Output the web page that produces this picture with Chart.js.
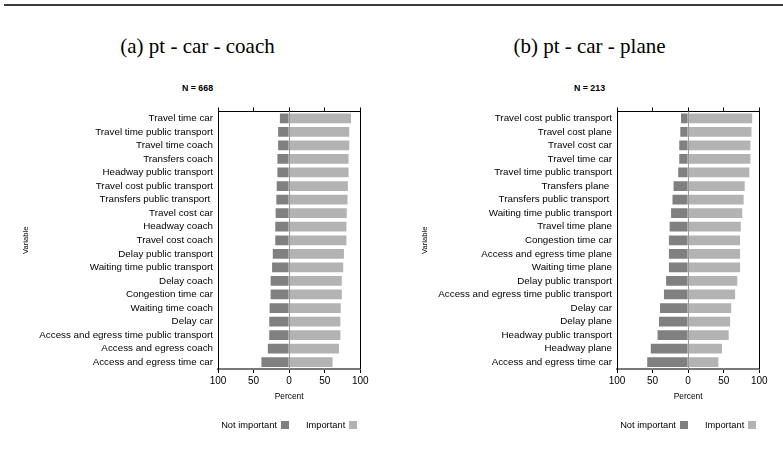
<!DOCTYPE html>
<html>
<head>
<meta charset="utf-8">
<script src="https://cdn.jsdelivr.net/npm/chart.js@4"></script>
<style>
  html, body { margin: 0; padding: 0; background: #fff; }
  #page { position: relative; width: 783px; height: 465px; overflow: hidden; background: #fff; }
  .rule { position: absolute; left: 4px; top: 4px; width: 779px; height: 2px; background: #3c3c3c; }
  .title { position: absolute; width: 391px; text-align: center; font-family: "Liberation Serif", "Times New Roman", serif; font-size: 21px; color: #000; line-height: 24px; }
  .ntext { position: absolute; width: 391px; text-align: center; font-family: "Liberation Sans Narrow", "Liberation Sans", Arial, sans-serif; font-weight: bold; font-size: 8.8px; color: #000; line-height: 10px; }
  .panel { position: absolute; top: 0; height: 465px; }
  .legend { position: absolute; top: 419px; height: 12px; white-space: nowrap; font-family: "Liberation Sans", Arial, Helvetica, sans-serif; font-size: 9.3px; line-height: 12px; color: #000; }
  .legend .item { display: inline-block; vertical-align: top; }
  .legend .item + .item { margin-left: 17px; }
  .legend .swatch { display: inline-block; width: 8px; height: 8px; margin-left: 4px; vertical-align: -1px; }
</style>
</head>
<body>
<div id="page">
  <div class="rule"></div>
  <div class="title" style="left:2px; top:34px;">(a) pt - car - coach</div>
  <div class="title" style="left:394px; top:34px;">(b) pt - car - plane</div>
  <div class="ntext" style="left:2px; top:83px;">N = 668</div>
  <div class="ntext" style="left:394px; top:83px;">N = 213</div>
  <div class="panel" style="left:0; width:391px;"><canvas id="coach"></canvas></div>
  <div class="panel" style="left:391px; width:392px;"><canvas id="plane"></canvas></div>
</div>
<script>
// Share of respondents (percent) rating each attribute, pt - car - coach
const coachVariables = [
  "Travel time car", "Travel time public transport", "Travel time coach", "Transfers coach",
  "Headway public transport", "Travel cost public transport", "Transfers public transport ",
  "Travel cost car", "Headway coach", "Travel cost coach", "Delay public transport",
  "Waiting time public transport", "Delay coach", "Congestion time car", "Waiting time coach",
  "Delay car", "Access and egress time public transport", "Access and egress coach",
  "Access and egress time car"
];
const coachNotImportant = [13, 15.5, 15.5, 16.5, 16.5, 17.5, 18, 19, 19.5, 19.5, 23, 24, 26, 26, 27.5, 28, 28, 30, 39];
const coachImportant    = [87, 84.5, 84.5, 83.5, 83.5, 82.5, 82, 81, 80.5, 80.5, 77, 76, 74, 74, 72.5, 72, 72, 70, 61];

// Share of respondents (percent) rating each attribute, pt - car - plane
const planeVariables = [
  "Travel cost public transport", "Travel cost plane", "Travel cost car", "Travel time car",
  "Travel time public transport", "Transfers plane ", "Transfers public transport ",
  "Waiting time public transport", "Travel time plane", "Congestion time car",
  "Access and egress time plane", "Waiting time plane", "Delay public transport",
  "Access and egress time public transport", "Delay car", "Delay plane",
  "Headway public transport", "Headway plane", "Access and egress time car"
];
const planeNotImportant = [10, 11, 12.5, 12.5, 14, 20.5, 22, 24, 26, 27, 27, 27, 31, 34, 39.5, 41, 43, 52.5, 57.5];
const planeImportant    = [90, 89, 87.5, 87.5, 86, 79.5, 78, 76, 74, 73, 73, 73, 69, 66, 60.5, 59, 57, 47.5, 42.5];

const seriesNames = ["Not important", "Important"];
const percentTicks = [-100, -50, 0, 50, 100];

const SANS = '"Liberation Sans", Arial, Helvetica, sans-serif';
const seriesColors = ['#808080', '#b3b3b3'];

// zero reference line drawn over the bars, plus the right edge of the panel frame
const panelDecor = {
  id: 'panelDecor',
  afterDatasetsDraw(chart) {
    const {ctx, chartArea} = chart;
    const x0 = Math.round(chart.scales.x.getPixelForValue(0)) + 0.5;
    ctx.save();
    ctx.strokeStyle = '#9a9a9a';
    ctx.lineWidth = 1;
    ctx.beginPath();
    ctx.moveTo(x0, chartArea.top);
    ctx.lineTo(x0, chartArea.bottom);
    ctx.stroke();
    ctx.restore();
  },
  afterDraw(chart) {
    const {ctx, chartArea} = chart;
    const xr = Math.round(chartArea.right) + 0.5;
    ctx.save();
    ctx.strokeStyle = '#000';
    ctx.lineWidth = 1;
    ctx.beginPath();
    ctx.moveTo(xr, chartArea.top - 0.5);
    ctx.lineTo(xr, chartArea.bottom);
    ctx.stroke();
    ctx.restore();
  }
};

// legend under the panel: label text followed by its colour key, centred on the plot
function addLegend(chart, panelLeft) {
  const box = document.createElement('div');
  box.className = 'legend';
  chart.data.datasets.forEach(ds => {
    const item = document.createElement('span');
    item.className = 'item';
    item.appendChild(document.createTextNode(ds.label));
    const sw = document.createElement('span');
    sw.className = 'swatch';
    sw.style.background = ds.backgroundColor;
    item.appendChild(sw);
    box.appendChild(item);
  });
  document.getElementById('page').appendChild(box);
  const {left, right} = chart.chartArea;
  const centre = panelLeft + (left + right) / 2;
  box.style.left = (centre - box.offsetWidth / 2) + 'px';
}

function makePanel(id, variables, notImportant, important, pad) {
  const ctx = document.getElementById(id);
  return new Chart(ctx, {
    type: 'bar',
    data: {
      labels: variables,
      datasets: [
        { label: seriesNames[0], data: notImportant.map(v => -v), backgroundColor: seriesColors[0], borderWidth: 0 },
        { label: seriesNames[1], data: important, backgroundColor: seriesColors[1], borderWidth: 0 }
      ]
    },
    options: {
      indexAxis: 'y',
      responsive: true,
      maintainAspectRatio: false,
      animation: false,
      devicePixelRatio: 1,
      datasets: { bar: { categoryPercentage: 1, barPercentage: 0.72 } },
      layout: { padding: { left: pad.left, right: pad.right, top: 107.5, bottom: 62.9 } },
      plugins: {
        tooltip: { enabled: false },
        legend: { display: false }
      },
      scales: {
        x: {
          type: 'linear', position: 'bottom', stacked: true,
          min: -100, max: 100,
          afterBuildTicks: s => { s.ticks = percentTicks.map(v => ({ value: v })); },
          ticks: { color: '#000', padding: 2.5, font: { family: SANS, size: 10 }, callback: v => Math.abs(v) },
          grid: { drawOnChartArea: false, drawTicks: true, tickLength: 4, tickColor: '#000', tickWidth: 1 },
          border: { display: true, color: '#7a7a7a', width: 2 },
          title: { display: true, text: 'Percent', color: '#000', font: { family: SANS, size: 8.4 }, padding: { top: 2, bottom: 0 } }
        },
        xTop: {
          type: 'linear', position: 'top',
          min: -100, max: 100,
          afterBuildTicks: s => { s.ticks = percentTicks.map(v => ({ value: v })); },
          ticks: { display: false },
          grid: { drawOnChartArea: false, drawTicks: true, tickLength: 4, tickColor: '#000', tickWidth: 1 },
          border: { display: true, color: '#000', width: 1 }
        },
        y: {
          type: 'category', stacked: true,
          afterFit: s => { s.width = pad.yWidth; },
          ticks: { color: '#000', padding: 5, autoSkip: false, font: { family: SANS, size: 9.8 } },
          grid: { display: false, drawTicks: false },
          border: { display: true, color: '#000', width: 1 },
          title: { display: true, text: 'Variable', color: '#000', font: { family: SANS, size: 7.6 }, padding: { top: 4, bottom: 4 } }
        }
      }
    },
    plugins: [panelDecor]
  });
}

const coachChart = makePanel('coach', coachVariables, coachNotImportant, coachImportant, { left: 17.5, right: 30.7, yWidth: 200.5 });
const planeChart = makePanel('plane', planeVariables, planeNotImportant, planeImportant, { left: 25.5, right: 23.7, yWidth: 200.5 });
addLegend(coachChart, 0);
addLegend(planeChart, 391);
</script>
</body>
</html>
